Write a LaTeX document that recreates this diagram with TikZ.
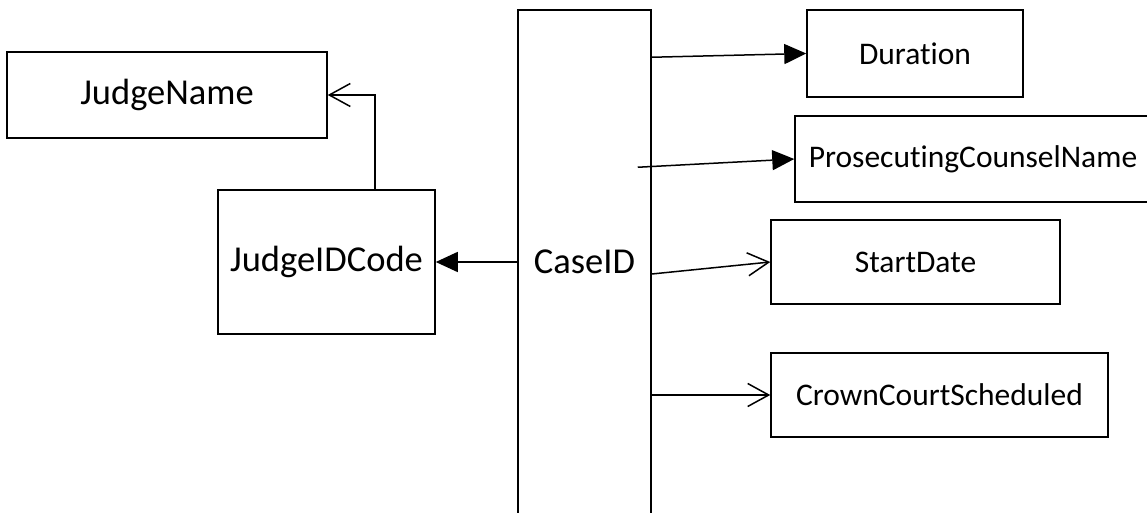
\documentclass[tikz,border=0pt]{standalone}
\usepackage{fontspec}
\setmainfont[Ligatures=NoCommon]{Carlito}
\usetikzlibrary{arrows.meta}
\begin{document}
\begin{tikzpicture}[x=1pt,y=-1pt,
  entity/.style={draw=black, line width=1.5pt, rectangle, inner sep=0pt, anchor=center},
  bigtext/.style={font=\fontsize{36.5}{40}\selectfont},
  smalltext/.style={font=\fontsize{31.5}{36}\selectfont},
  solidtip/.style={line width=1.5pt, -{Triangle[length=22pt,width=20pt]}},
  opentip/.style={line width=1.5pt, -{Straight Barb[length=21pt,width=23pt,line width=1.5pt]}}]
  \useasboundingbox (0,0) rectangle (1147,513);

  % left-hand entities
  \node[entity, bigtext, minimum width=320pt, minimum height=86pt] (judgename) at (167,95) {JudgeName};
  \node[entity, bigtext, minimum width=217pt, minimum height=144pt] (judgeid) at (326.5,262) {JudgeIDCode};

  % central key column, running off the bottom edge
  \node[entity, bigtext, minimum width=133pt, minimum height=504pt] (caseid) at (584.5,262) {CaseID};

  % right-hand attributes
  \node[entity, smalltext, minimum width=216pt, minimum height=87pt] (duration) at (915,53.5) {Duration};
  \node[entity, smalltext, minimum width=356pt, minimum height=86pt] (counsel) at (973,159) {ProsecutingCounselName};
  \node[entity, smalltext, minimum width=289pt, minimum height=84pt] (startdate) at (915.5,262) {StartDate};
  \node[entity, smalltext, minimum width=337pt, minimum height=84pt] (crown) at (939.5,395) {CrownCourtScheduled};

  % connector start points on the key column
  \coordinate (fromDur) at ([yshift=-48pt]caseid.north east);
  \coordinate (fromCounsel) at ([xshift=-14pt,yshift=-158pt]caseid.north east);
  \coordinate (fromStart) at ([yshift=-12pt]caseid.east);
  \coordinate (fromJudge) at ([xshift=48.5pt]judgeid.north);

  % dependencies
  \draw[solidtip] (caseid.west) -- (judgeid.east);
  \draw[opentip] (fromJudge) |- (judgename.east);
  \draw[solidtip] (fromDur) -- (duration.west);
  \draw[solidtip] (fromCounsel) -- (counsel.west);
  \draw[opentip] (fromStart) -- (startdate.west);
  \draw[opentip] (caseid.east |- crown.west) -- (crown.west);
\end{tikzpicture}
\end{document}
